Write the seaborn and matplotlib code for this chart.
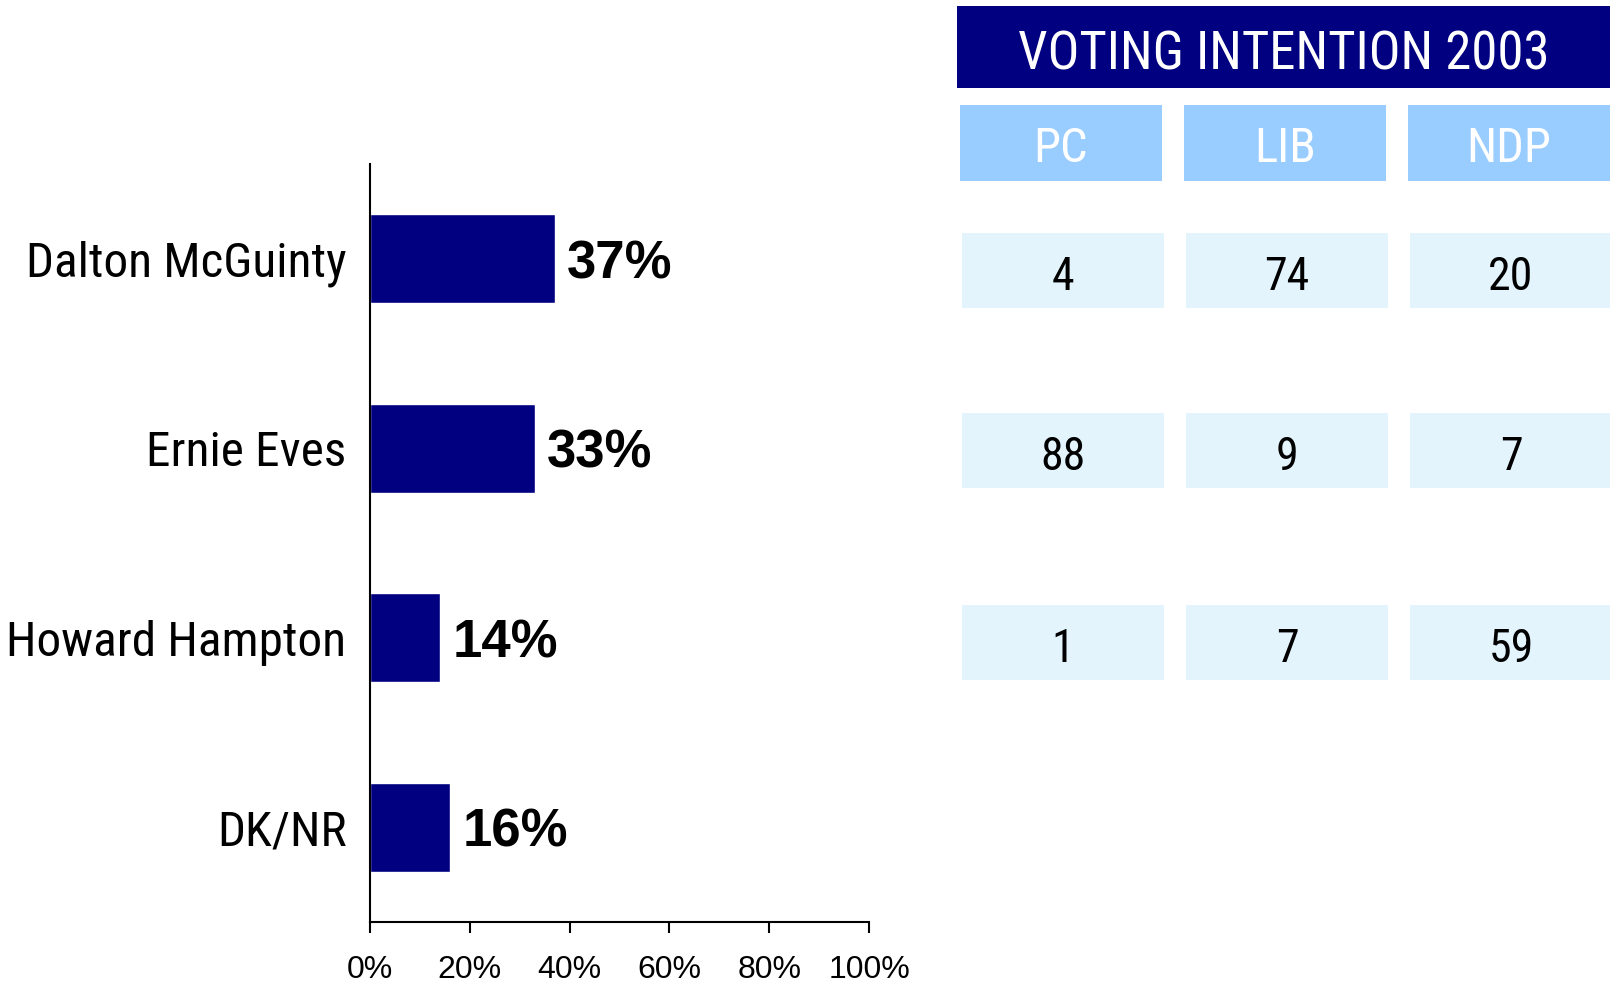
import numpy as np
import pandas as pd
import seaborn as sns
from matplotlib import pyplot as plt
from matplotlib.patches import Rectangle

# данные
candidates = ['Dalton McGuinty', 'Ernie Eves', 'Howard Hampton', 'DK/NR']
support = [37, 33, 14, 16]

parties = ['PC', 'LIB', 'NDP']
pc_voters = [4, 88, 1]
lib_voters = [74, 9, 7]
ndp_voters = [20, 7, 59]
table_title = 'VOTING INTENTION 2003'
x_ticks = [0, 20, 40, 60, 80, 100]

NAVY = '#000080'
HEAD = '#99CCFF'
CELL = '#E3F4FD'
NARROW = dict(family=['Roboto Condensed', 'DejaVu Sans'], fontstretch='condensed')

sns.set_theme(style='white')
plt.rcParams['font.family'] = ['Liberation Sans', 'DejaVu Sans']

fig = plt.figure(figsize=(16.1, 9.84), dpi=100)
W, H = 1610, 984

# Столбчатая диаграмма
ax = fig.add_axes([370 / W, 1 - 922 / H, 499 / W, 758 / H])
df = pd.DataFrame({'candidate': candidates, 'support': support})
sns.barplot(data=df, y='candidate', x='support', color=NAVY, saturation=1,
            width=0.47, orient='h', ax=ax)

# подписи значений
for i, v in enumerate(support):
    ax.annotate(f'{v}%', (v, i), xytext=(9, 0), textcoords='offset points',
                fontsize=38, fontweight='bold', color='black',
                ha='left', va='center_baseline')

ax.set_xlim(0, 100)
ax.set_ylim(3.5, -0.5)
ax.set_xticks(x_ticks)
ax.set_xticklabels([f'{t}%' for t in x_ticks], fontsize=23, color='black')
ax.set_yticks(range(len(candidates)))
ax.set_yticklabels(candidates, fontsize=35.5, color='black', **NARROW)
ax.set_xlabel('')
ax.set_ylabel('')
for side in ('top', 'right'):
    ax.spines[side].set_visible(False)
for side in ('left', 'bottom'):
    ax.spines[side].set_color('black')
    ax.spines[side].set_linewidth(1.5)
ax.tick_params(axis='x', bottom=True, length=8, width=1.5, color='black', pad=16)
ax.tick_params(axis='y', left=False, pad=11)

# Таблица справа (в пиксельных координатах)
tab = fig.add_axes([0, 0, 1, 1])
tab.set_xlim(0, W)
tab.set_ylim(H, 0)
tab.axis('off')

tab.add_patch(Rectangle((957, 6), W - 957, 82, color=NAVY, lw=0))
tab.text((957 + W) / 2, 49, table_title, color='white', fontsize=38,
         ha='center', va='center_baseline', **NARROW)

col_x = [960, 1184, 1408]
col_w = 202
for i, p in enumerate(parties):
    tab.add_patch(Rectangle((col_x[i], 105), col_w, 76, color=HEAD, lw=0))
    tab.text(col_x[i] + col_w / 2, 144, p, color='white', fontsize=35,
             ha='center', va='center_baseline', **NARROW)

row_top = [233, 413, 605]
columns = [pc_voters, lib_voters, ndp_voters]
for j, top in enumerate(row_top):
    for i, vals in enumerate(columns):
        tab.add_patch(Rectangle((col_x[i] + 2, top), col_w, 75, color=CELL, lw=0))
        tab.text(col_x[i] + 2 + col_w / 2, top + 40, str(vals[j]), color='black',
                 fontsize=33, ha='center', va='center_baseline', **NARROW)

fig.savefig('out.png', dpi=100)
